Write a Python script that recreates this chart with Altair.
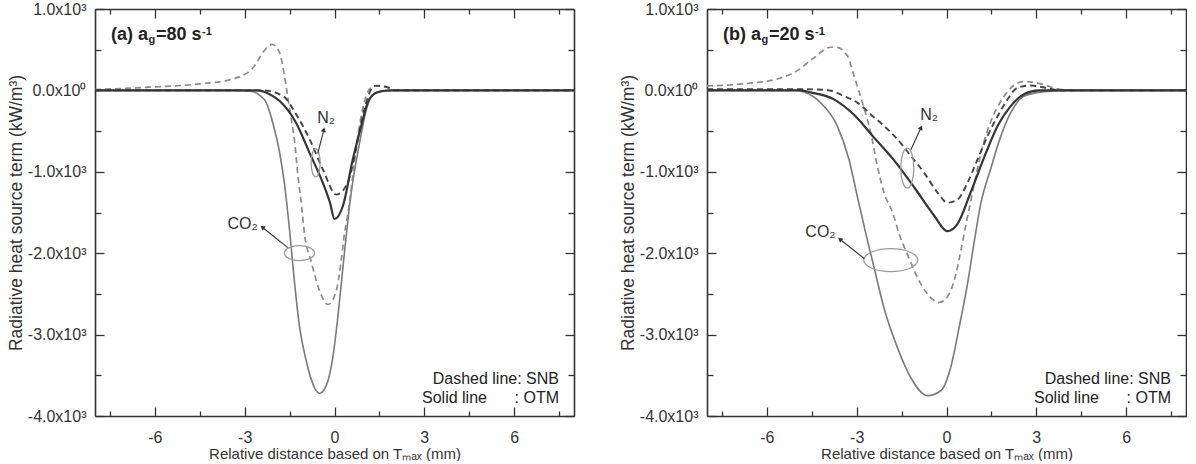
import math
import altair as alt
import pandas as pd

FONT = "Liberation Sans"
INK = "#333333"

# ---------------- axes ----------------
X_DOMAIN = [-8, 8]
Y_DOMAIN = [-4000, 1000]
X_MAJOR = [-6, -3, 0, 3, 6]
X_MINOR = [-7.5, -4.5, -1.5, 1.5, 4.5, 7.5]
Y_MAJOR = [-4000, -3000, -2000, -1000, 0, 1000]
Y_MINOR = [-3500, -2500, -1500, -500, 500]

PLOT_W = 479
PLOT_H = 407

# ---------------- panel (a): a_g = 80 1/s ----------------
a_co2_otm_x = [-8, -3.4, -2.8, -2.5, -2.28, -2.06, -1.83, -1.67, -1.5, -1.33, -1.17, -0.94, -0.67, -0.5,
               -0.28, -0.06, 0.11, 0.28, 0.44, 0.6, 0.75, 0.89, 1.06, 1.28, 1.6, 2.2, 8]
a_co2_otm_y = [0, 0, -10, -60, -150, -400, -770, -1150, -1720, -2380, -2900, -3330, -3650, -3720,
               -3630, -3290, -2790, -2180, -1620, -1150, -820, -540, -240, -60, -5, 0, 0]

a_co2_snb_x = [-8, -6.2, -4.5, -3.4, -2.73, -2.27, -2.08, -1.83, -1.67, -1.5, -1.33, -1.22, -1.1, -1.0,
               -0.78, -0.5, -0.22, 0.06, 0.22, 0.33, 0.44, 0.61, 0.78, 0.94, 1.17, 1.4, 1.67, 2.0, 2.5, 8]
a_co2_snb_y = [10, 40, 80, 140, 275, 520, 565, 460, 175, -230, -640, -1050, -1420, -1770,
               -2100, -2460, -2630, -2460, -2100, -1770, -1530, -1050, -560, -230, 15, 60, 50, 5, 0, 0]

a_n2_otm_x = [-8, -2.6, -2.2, -1.83, -1.28, -0.83, -0.39, -0.15, 0.0, 0.28, 0.61, 0.89, 1.11, 1.39, 1.83, 8]
a_n2_otm_y = [0, 0, -40, -130, -400, -770, -1135, -1380, -1580, -1420, -850, -440, -150, -30, 0, 0]

a_n2_snb_x = [-8, -2.4, -1.72, -1.28, -0.83, -0.39, 0.06, 0.44, 0.67, 0.89, 1.11, 1.33, 1.72, 2.06, 8]
a_n2_snb_y = [0, 0, -70, -295, -600, -970, -1280, -1135, -805, -400, -90, 55, 45, 0, 0]

# ---------------- panel (b): a_g = 20 1/s ----------------
b_co2_otm_x = [-8, -5.0, -4.76, -4.21, -3.65, -3.26, -2.98, -2.72, -2.42, -2.09, -1.64, -1.19, -0.64,
               -0.19, 0.14, 0.42, 0.7, 0.93, 1.14, 1.48, 1.76, 2.15, 2.6, 3.27, 4.1, 8]
b_co2_otm_y = [0, 0, -20, -150, -435, -845, -1300, -1720, -2175, -2670, -3160, -3530, -3750,
               -3690, -3405, -2915, -2380, -1850, -1400, -960, -620, -270, -70, -15, 0, 0]

b_co2_snb_x = [-8, -6.66, -5.66, -4.99, -4.43, -3.87, -3.68, -3.31, -3.09, -2.81, -2.53, -2.31, -2.09,
               -1.8, -1.58, -1.31, -0.97, -0.64, -0.24, 0.09, 0.31, 0.48, 0.65, 0.81, 1.0, 1.2, 1.48,
               1.82, 2.15, 2.6, 3.15, 3.72, 4.3, 8]
b_co2_snb_y = [55, 85, 140, 240, 400, 530, 530, 425, 180, -150, -520, -930, -1255,
               -1500, -1765, -2010, -2300, -2500, -2605, -2500, -2260, -1970, -1645, -1360, -1020, -700, -380,
               -130, 30, 110, 80, 20, 0, 0]

b_n2_otm_x = [-8, -4.9, -4.54, -3.76, -3.09, -2.42, -1.75, -1.08, -0.41, 0.03, 0.37, 0.81, 1.32, 1.71,
              2.15, 2.6, 3.1, 8]
b_n2_otm_y = [0, 0, -25, -110, -300, -580, -860, -1190, -1540, -1730, -1640, -1250, -765, -435,
              -190, -45, 0, 0]

b_n2_snb_x = [-8, -5.0, -4.0, -3.42, -2.98, -2.53, -2.09, -1.64, -1.19, -0.75, -0.3, 0.03, 0.37, 0.7,
              1.04, 1.37, 1.71, 2.04, 2.38, 2.82, 3.27, 3.8, 8]
b_n2_snb_y = [15, 15, 5, -70, -150, -295, -435, -600, -805, -1010, -1255, -1380, -1340, -1135,
              -845, -560, -315, -110, 35, 60, 35, 0, 0]

# line styles: CO2 in light grey, N2 in dark grey; SNB dashed, OTM solid
STYLE_CO2_OTM = dict(color="#7a7a7a", strokeWidth=1.6)
STYLE_CO2_SNB = dict(color="#8c8c8c", strokeWidth=1.7, strokeDash=[6, 4])
STYLE_N2_SNB = dict(color="#454545", strokeWidth=1.9, strokeDash=[6, 4])
STYLE_N2_OTM = dict(color="#353535", strokeWidth=2.2)

XS = alt.Scale(domain=X_DOMAIN, nice=False, zero=False)
YS = alt.Scale(domain=Y_DOMAIN, nice=False, zero=False)

X_LABELS = "(datum.value < 0 ? '-' : '') + format(abs(datum.value), 'd')"
Y_LABELS = ("datum.value == 0 ? '0.0x10\u2070' : (datum.value < 0 ? '-' : '') + "
            "format(abs(datum.value) / 1000, '.1f') + 'x10\u00b3'")

# four axes per channel: major/minor ticks on both sides, all pointing inwards
X_AXES = [
    alt.Axis(orient="bottom", values=X_MAJOR, tickSize={"expr": "-9"}, labelPadding=22,
             labelExpr=X_LABELS, labelFlush=False, domain=True, domainWidth=1.6, tickWidth=1.3,
             title="Relative distance based on T\u2098\u2090\u2093 (mm)", titlePadding=1, titleFontSize=15),
    alt.Axis(orient="bottom", values=X_MINOR, tickSize={"expr": "-5"}, labels=False, domain=False,
             tickWidth=1.3, title=None),
    alt.Axis(orient="top", values=X_MAJOR, tickSize={"expr": "-9"}, labels=False, domain=True,
             domainWidth=1.6, tickWidth=1.3, title=None),
    alt.Axis(orient="top", values=X_MINOR, tickSize={"expr": "-5"}, labels=False, domain=False,
             tickWidth=1.3, title=None),
]
Y_AXES = [
    alt.Axis(orient="left", values=Y_MAJOR, tickSize={"expr": "-9"}, labelPadding=18,
             labelExpr=Y_LABELS, labelFlush=False, domain=True, domainWidth=1.6, tickWidth=1.3,
             title="Radiative heat source term (kW/m\u00b3)", titlePadding=2, titleFontSize=17.5),
    alt.Axis(orient="left", values=Y_MINOR, tickSize={"expr": "-6"}, labels=False, domain=False,
             tickWidth=1.3, title=None),
    alt.Axis(orient="right", values=Y_MAJOR, tickSize={"expr": "-9"}, labels=False, domain=True,
             domainWidth=1.6, tickWidth=1.3, title=None),
    alt.Axis(orient="right", values=Y_MINOR, tickSize={"expr": "-6"}, labels=False, domain=False,
             tickWidth=1.3, title=None),
]

PX_PER_X = PLOT_W / (X_DOMAIN[1] - X_DOMAIN[0])
PX_PER_Y = PLOT_H / (Y_DOMAIN[1] - Y_DOMAIN[0])


def ellipse_path(w, h):
    if w <= h:
        r = w / h
        return f"M {-r} 0 A {r} 1 0 1 1 {r} 0 A {r} 1 0 1 1 {-r} 0 Z", h * h
    r = h / w
    return f"M -1 0 A 1 {r} 0 1 1 1 0 A 1 {r} 0 1 1 -1 0 Z", w * w


def xy(df):
    return dict(x=alt.X("x:Q", scale=XS, axis=None), y=alt.Y("y:Q", scale=YS, axis=None))


def gas_note(label, text_xy, ell_xy, ell_wh, arrow):
    """Label + arrow + ellipse grouping a pair of curves."""
    layers = []
    tdf = pd.DataFrame({"x": [text_xy[0]], "y": [text_xy[1]], "t": [label]})
    layers.append(alt.Chart(tdf).mark_text(font=FONT, fontSize=16, color=INK).encode(
        text="t:N", **xy(tdf)))
    path, size = ellipse_path(*ell_wh)
    edf = pd.DataFrame({"x": [ell_xy[0]], "y": [ell_xy[1]]})
    layers.append(alt.Chart(edf).mark_point(shape=path, size=size, filled=False, stroke="#9a9a9a",
                                            strokeWidth=1.3, opacity=1).encode(**xy(edf)))
    (x1, y1), (x2, y2) = arrow
    rdf = pd.DataFrame({"x": [x1], "y": [y1], "x2": [x2], "y2": [y2]})
    layers.append(alt.Chart(rdf).mark_rule(color=INK, strokeWidth=1.1).encode(
        x2="x2:Q", y2="y2:Q", **xy(rdf)))
    ang = math.degrees(math.atan2((x2 - x1) * PX_PER_X, (y2 - y1) * PX_PER_Y)) % 360
    hdf = pd.DataFrame({"x": [x2], "y": [y2]})
    layers.append(alt.Chart(hdf).mark_point(shape="triangle", size=28, filled=True, color=INK,
                                            opacity=1, angle=ang).encode(**xy(hdf)))
    return layers


def text_piece(t, x, y, size, bold=False, align="left"):
    df = pd.DataFrame({"t": [t]})
    return alt.Chart(df).mark_text(font=FONT, fontSize=size, fontWeight="bold" if bold else "normal",
                                   color="#222222", align=align, baseline="alphabetic").encode(
        text="t:N", x=alt.value(x), y=alt.value(y))


def panel(curves, notes, tag, rate):
    layers = []
    for i, (xs, ys, style) in enumerate(curves):
        df = pd.DataFrame({"x": xs, "y": ys})
        layers.append(alt.Chart(df).mark_line(interpolate="monotone", clip=True, **style).encode(
            x=alt.X("x:Q", scale=XS, axis=X_AXES[i]),
            y=alt.Y("y:Q", scale=YS, axis=Y_AXES[i])))
    for n in notes:
        layers += gas_note(*n)
    # heading: (a) a_g=80 s^-1
    head_w = 37 if tag == "a" else 38
    layers += [
        text_piece(f"({tag}) a", 16, 31, 18, bold=True),
        text_piece("g", 16 + head_w + 0.5, 33.5, 11, bold=True),
        text_piece(f"={rate} s", 16 + head_w + 8, 31, 18, bold=True),
        text_piece("-1", 16 + head_w + 8 + 45.5 + 0.5, 26, 11, bold=True),
    ]
    # model key
    layers += [
        text_piece("Dashed line: SNB", 464, 375, 16, align="right"),
        text_piece("Solid line", 327, 394, 16),
        text_piece(": OTM", 464, 394, 16, align="right"),
    ]
    return alt.layer(*layers).resolve_axis(x="independent", y="independent").properties(
        width=PLOT_W, height=PLOT_H)


panel_a = panel(
    [(a_co2_otm_x, a_co2_otm_y, STYLE_CO2_OTM),
     (a_co2_snb_x, a_co2_snb_y, STYLE_CO2_SNB),
     (a_n2_snb_x, a_n2_snb_y, STYLE_N2_SNB),
     (a_n2_otm_x, a_n2_otm_y, STYLE_N2_OTM)],
    [("N\u2082", (-0.28, -335), (-0.63, -890), (9, 28), ((-0.56, -776), (-0.36, -491))),
     ("CO\u2082", (-3.07, -1640), (-1.17, -2000), (30, 15), ((-1.56, -1932), (-2.39, -1687)))],
    "a", 80)

panel_b = panel(
    [(b_co2_otm_x, b_co2_otm_y, STYLE_CO2_OTM),
     (b_co2_snb_x, b_co2_snb_y, STYLE_CO2_SNB),
     (b_n2_snb_x, b_n2_snb_y, STYLE_N2_SNB),
     (b_n2_otm_x, b_n2_otm_y, STYLE_N2_OTM)],
    [("N\u2082", (-0.58, -300), (-1.31, -955), (13, 40), ((-1.19, -730), (-0.86, -465))),
     ("CO\u2082", (-4.21, -1735), (-1.86, -2085), (54, 23), ((-2.75, -2065), (-3.54, -1835)))],
    "b", 20)

chart = alt.hconcat(panel_a, panel_b, spacing=44).properties(
    padding={"left": 7, "top": 1, "right": 0, "bottom": 0}
).configure(font=FONT).configure_view(stroke=None).configure_axis(
    labelFont=FONT, labelFontSize=16, labelColor=INK, titleFont=FONT, titleFontSize=16,
    titleFontWeight="normal", titleColor=INK, tickColor=INK, domainColor=INK, grid=False)

chart.save("out.html", embed_options={"renderer": "svg", "actions": False})
